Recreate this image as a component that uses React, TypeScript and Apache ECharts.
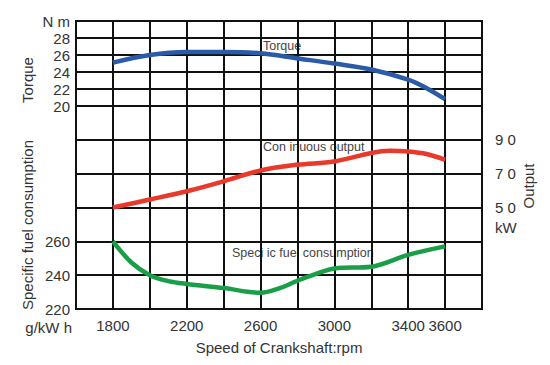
import React, { useEffect, useRef } from "react";
import * as echarts from "echarts";

const torqueRpm = [1800, 2000, 2200, 2400, 2600, 2800, 3000, 3200, 3400, 3500, 3600];
const torque = [25.1, 26.0, 26.35, 26.35, 26.2, 25.6, 25.0, 24.3, 23.1, 22.1, 20.8];

const outputRpm = [1800, 2000, 2200, 2400, 2600, 2800, 3000, 3200, 3300, 3400, 3500, 3600];
const output = [50, 54.7, 59.6, 65.5, 71.9, 75.3, 77.2, 82.2, 83.5, 83.1, 81.6, 78.2];

const fuelRpm = [1800, 1900, 2000, 2100, 2200, 2400, 2600, 2700, 2800, 2900, 3000, 3200, 3400, 3600];
const fuel = [260, 247.5, 240, 236.5, 234.8, 232.4, 229.6, 232.2, 236.7, 240.7, 244, 245, 252, 257];

const rpmTickLabels = [1800, 2200, 2600, 3000, 3400, 3600];
const torqueTickLabels = [20, 22, 24, 26, 28];
const fuelTickLabels = [220, 240, 260];
const outputTickLabels = [50, 70, 90];

const FONT = "Liberation Sans, Arial, sans-serif";
const GRIDLINE = { show: true, lineStyle: { color: "#111", width: 2 } };

export default function App() {
  const ref = useRef<HTMLDivElement>(null);
  useEffect(() => {
    if (!ref.current) return;
    const chart = echarts.init(ref.current, undefined, { renderer: "svg" });
    const pair = (xs: number[], ys: number[]) => xs.map((x, i) => [x, ys[i]]);
    const labelStyle = { fontFamily: FONT, fontSize: 15, color: "#333" };
    chart.setOption({
      animation: false,
      textStyle: { fontFamily: FONT },
      grid: [
        { left: 76, right: 68, top: 21, height: 85, show: true, borderColor: "#000", borderWidth: 2 },
        { left: 76, right: 68, top: 106, height: 203, show: true, borderColor: "#000", borderWidth: 2 },
      ],
      xAxis: [
        {
          type: "value", gridIndex: 0, min: 1600, max: 3800, interval: 200,
          axisLine: { show: false }, axisTick: { show: false }, axisLabel: { show: false },
          splitLine: GRIDLINE,
        },
        {
          type: "value", gridIndex: 1, min: 1600, max: 3800, interval: 200,
          axisLine: { show: false }, axisTick: { show: false },
          axisLabel: {
            ...labelStyle, margin: 9, showMinLabel: true, showMaxLabel: true,
            formatter: (v: number) => (rpmTickLabels.includes(v) ? String(v) : ""),
          },
          splitLine: GRIDLINE,
        },
      ],
      yAxis: [
        {
          type: "value", gridIndex: 0, min: 20, max: 30, interval: 2,
          axisLine: { show: false }, axisTick: { show: false },
          axisLabel: {
            ...labelStyle, margin: 6,
            formatter: (v: number) => (v === 30 ? "N m" : torqueTickLabels.includes(v) ? String(v) : ""),
          },
          splitLine: GRIDLINE,
        },
        {
          type: "value", gridIndex: 1, min: 220, max: 340, interval: 20,
          axisLine: { show: false }, axisTick: { show: false },
          axisLabel: {
            ...labelStyle, margin: 6,
            formatter: (v: number) => (fuelTickLabels.includes(v) ? String(v) : ""),
          },
          splitLine: GRIDLINE,
        },
        {
          type: "value", gridIndex: 1, position: "right", min: -10, max: 110, interval: 10,
          axisLine: { show: false }, axisTick: { show: false }, splitLine: { show: false },
          axisLabel: {
            ...labelStyle, margin: 13,
            formatter: (v: number) => (outputTickLabels.includes(v) ? String(v).split("").join(" ") : ""),
          },
        },
      ],
      series: [
        {
          type: "line", name: "Torque", xAxisIndex: 0, yAxisIndex: 0, smooth: 0.35, showSymbol: false,
          data: pair(torqueRpm, torque), lineStyle: { color: "#2b5aa8", width: 4.5 }, itemStyle: { color: "#2b5aa8" },
        },
        {
          type: "line", name: "Continuous output", xAxisIndex: 1, yAxisIndex: 2, smooth: 0.35, showSymbol: false,
          data: pair(outputRpm, output), lineStyle: { color: "#e8392b", width: 4.5 }, itemStyle: { color: "#e8392b" },
        },
        {
          type: "line", name: "Specific fuel consumption", xAxisIndex: 1, yAxisIndex: 1, smooth: 0.35, showSymbol: false,
          data: pair(fuelRpm, fuel), lineStyle: { color: "#1a9f48", width: 4.5 }, itemStyle: { color: "#1a9f48" },
        },
      ],
      graphic: [
        { type: "text", x: 27, y: 80, rotation: Math.PI / 2, style: { text: "Torque", fontFamily: FONT, fontSize: 15, fill: "#333", align: "center", verticalAlign: "middle" } },
        { type: "text", x: 27, y: 225, rotation: Math.PI / 2, style: { text: "Specific fuel consumption", fontFamily: FONT, fontSize: 15, fill: "#333", align: "center", verticalAlign: "middle" } },
        { type: "text", x: 72, y: 327, style: { text: "g/kW h", fontFamily: FONT, fontSize: 15, fill: "#333", align: "right", verticalAlign: "middle" } },
        { type: "text", x: 528, y: 186, rotation: Math.PI / 2, style: { text: "Output", fontFamily: FONT, fontSize: 15, fill: "#333", align: "center", verticalAlign: "middle" } },
        { type: "text", x: 495, y: 227, style: { text: "kW", fontFamily: FONT, fontSize: 15, fill: "#333", align: "left", verticalAlign: "middle" } },
        { type: "text", x: 279, y: 347, style: { text: "Speed of Crankshaft:rpm", fontFamily: FONT, fontSize: 15, fill: "#333", align: "center", verticalAlign: "middle" } },
        { type: "text", x: 263, y: 46, style: { text: "Torque", fontFamily: FONT, fontSize: 12.5, fill: "#444", align: "left", verticalAlign: "middle" } },
        { type: "text", x: 263, y: 147, style: { text: "Con inuous output", fontFamily: FONT, fontSize: 12.5, fill: "#444", align: "left", verticalAlign: "middle" } },
        { type: "text", x: 232, y: 253, style: { text: "Speci ic fuel consumption", fontFamily: FONT, fontSize: 12.5, fill: "#444", align: "left", verticalAlign: "middle" } },
      ],
    });
    return () => chart.dispose();
  }, []);
  return <div ref={ref} style={{ width: 550, height: 365, position: "absolute", left: 0, top: 0 }} />;
}
